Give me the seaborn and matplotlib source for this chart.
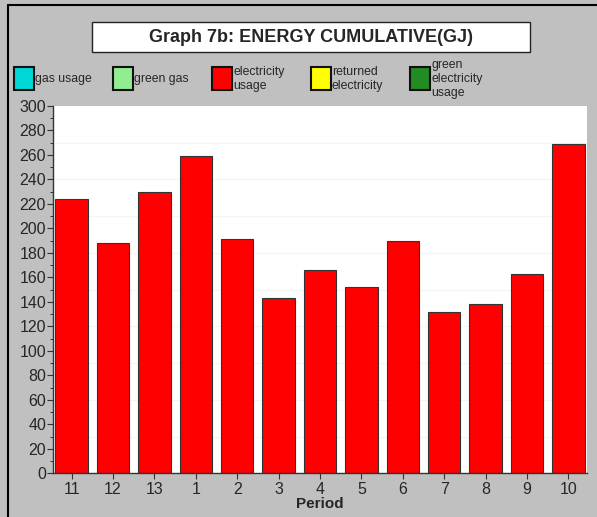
import numpy as np
import pandas as pd
import matplotlib
matplotlib.use("Agg")
import matplotlib.pyplot as plt
import seaborn as sns
from matplotlib.patches import Rectangle
from matplotlib.lines import Line2D
from matplotlib.ticker import MultipleLocator

# data
periods = ["11", "12", "13", "1", "2", "3", "4", "5", "6", "7", "8", "9", "10"]
electricity = [224, 188, 230, 259, 191, 143, 166, 152, 190, 132, 138, 163, 269]

legend_labels = ["gas usage", "green gas", "electricity\nusage",
                 "returned\nelectricity", "green\nelectricity\nusage"]
legend_colors = ["#00D8D8", "#90EE90", "#FF0000", "#FFFF00", "#228B22"]

W, H = 597, 517
GRAY = "#C0C0C0"

sns.set_style("white")
plt.rcParams["font.family"] = ["Liberation Sans", "DejaVu Sans"]

df = pd.DataFrame({"Period": periods, "GJ": electricity})

fig = plt.figure(figsize=(W / 100, H / 100), dpi=100, facecolor=GRAY)
ax = fig.add_axes([53 / W, 1 - 473.3 / H, (587 - 53) / W, (473.3 - 106) / H])
ax.set_facecolor("white")

sns.barplot(data=df, x="Period", y="GJ", order=periods, color="#FF0000",
            saturation=1, width=0.78, edgecolor="#333333", linewidth=0.8, ax=ax)

ax.set_xlim(-0.45, 12.45)
ax.set_ylim(0, 300)
ax.yaxis.set_major_locator(MultipleLocator(20))
ax.yaxis.set_minor_locator(MultipleLocator(10))
ax.tick_params(axis="y", which="major", direction="out", length=4, width=0.8,
               labelsize=11.5, pad=1, left=True, color="#333333")
ax.tick_params(axis="y", which="minor", direction="out", length=2.5, width=0.7,
               left=True, color="#333333")
ax.tick_params(axis="x", which="major", direction="out", length=4, width=0.8,
               labelsize=11.5, pad=2, bottom=True, color="#333333")

# very faint grid lines every 30
for g in range(30, 300, 30):
    ax.axhline(g, color="#f4f4f4", lw=0.8, zorder=0)

for s in ["top", "right"]:
    ax.spines[s].set_visible(False)
for s in ["left", "bottom"]:
    ax.spines[s].set_color("#333333")
    ax.spines[s].set_linewidth(1.0)

ax.set_ylabel("")
ax.set_xlabel("Period", fontsize=11, fontweight="bold", labelpad=0)

# title box
fig.add_artist(Rectangle((92 / W, 1 - 52 / H), (530 - 92) / W, 30 / H,
                         transform=fig.transFigure, facecolor="white",
                         edgecolor="#222222", lw=1.0))
fig.text(311 / W, 1 - 37 / H, "Graph 7b: ENERGY CUMULATIVE(GJ)",
         ha="center", va="center", fontsize=13, fontweight="bold")

# legend
for i, (lab, col) in enumerate(zip(legend_labels, legend_colors)):
    x0 = 14 + 99 * i
    fig.add_artist(Rectangle((x0 / W, 1 - 90 / H), 20 / W, 23 / H,
                             transform=fig.transFigure, facecolor=col,
                             edgecolor="#111111", lw=1.5))
    fig.text((x0 + 21) / W, 1 - 79 / H, lab, ha="left", va="center",
             fontsize=8.8, linespacing=1.25)

# outer frame lines
fig.add_artist(Line2D([8 / W, 8 / W], [0, 1 - 5 / H], transform=fig.transFigure,
                      color="black", lw=1.5))
fig.add_artist(Line2D([8 / W, 1], [1 - 5 / H, 1 - 5 / H], transform=fig.transFigure,
                      color="black", lw=1.5))

fig.savefig("out.png", dpi=100, facecolor=GRAY)
